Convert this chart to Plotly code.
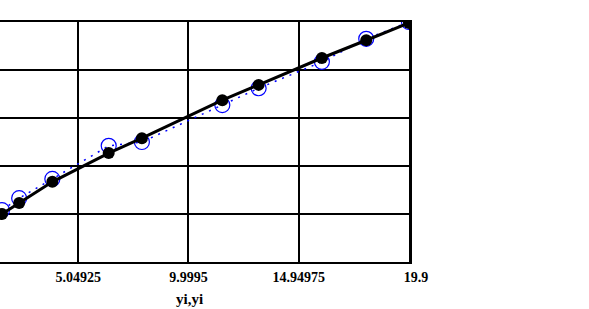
import plotly.graph_objects as go

# data
x_vals = [1.63, 2.40, 3.89, 6.42, 7.91, 11.52, 13.15, 15.99, 17.98, 19.9]
y_fit = [1.00, 1.23, 1.67, 2.27, 2.58, 3.37, 3.69, 4.25, 4.62, 4.98]
y_obs = [1.08, 1.33, 1.73, 2.42, 2.50, 3.27, 3.62, 4.17, 4.65, 5.00]
x_ticks = [5.04925, 9.9995, 14.94975, 19.9]
x_tick_text = ["5.04925", "9.9995", "14.94975", "\u00a0\u00a0\u00a0\u00a019.9"]
x_range = [1.54, 19.9]
y_range = [0, 5]
x_title = "yi,yi"

fig = go.Figure()
fig.add_trace(go.Scatter(
    x=x_vals, y=y_obs, mode="lines+markers",
    line=dict(color="blue", width=1.5, dash="2px,6px"),
    marker=dict(symbol="circle-open", size=15, color="blue", line=dict(width=1.2, color="blue")),
    showlegend=False))
fig.add_trace(go.Scatter(
    x=x_vals, y=y_fit, mode="lines+markers",
    line=dict(color="black", width=3),
    marker=dict(symbol="circle", size=12, color="black"),
    showlegend=False))

fig.update_layout(
    width=589, height=309,
    margin=dict(l=0, r=180, t=22, b=47),
    paper_bgcolor="white", plot_bgcolor="white",
    xaxis=dict(range=x_range, tickvals=x_ticks, ticktext=x_tick_text,
               showgrid=True, gridcolor="black", gridwidth=1.6,
               showline=True, linecolor="black", linewidth=2, mirror=True,
               ticks="", zeroline=False, ticklabelstandoff=1,
               tickfont=dict(family="Liberation Serif", size=14, color="black", weight="bold")),
    yaxis=dict(range=y_range, dtick=1, side="right",
               showgrid=True, gridcolor="black", gridwidth=1.6,
               showline=True, linecolor="black", linewidth=3,
               showticklabels=False, ticks="", zeroline=False),
    annotations=[dict(text="<b>" + x_title + "</b>", xref="paper", yref="paper",
                      x=189 / 409, y=-37 / 240, xanchor="center", yanchor="middle",
                      showarrow=False,
                      font=dict(family="Liberation Serif", size=15, color="black"))],
)
fig.write_html("out.html")
